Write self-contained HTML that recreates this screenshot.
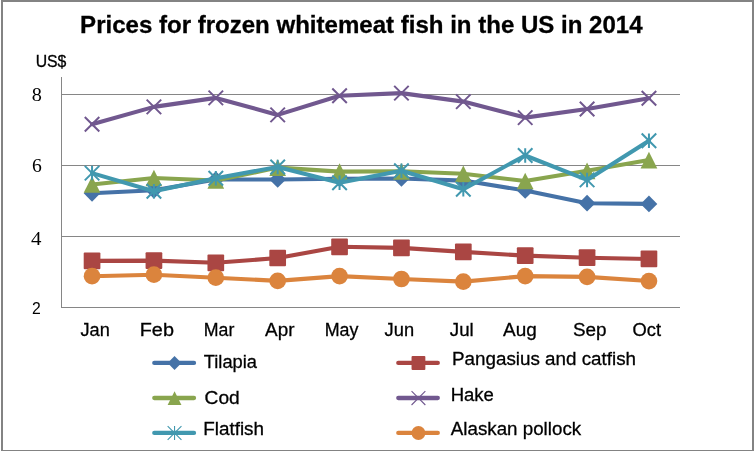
<!DOCTYPE html>
<html lang="en">
<head>
<meta charset="utf-8">
<title>Prices for frozen whitemeat fish in the US in 2014</title>
<style>
html,body{margin:0;padding:0;background:#fff;}
body{width:754px;height:451px;overflow:hidden;}
svg{display:block;}
text{font-family:"Liberation Sans",Arial,sans-serif;fill:#000;stroke:#000;stroke-width:0.3px;}
.n{stroke:none;}
.s{font-family:"Liberation Serif","Times New Roman",serif;}
.b{font-weight:bold;}
</style>
</head>
<body>
<svg width="754" height="451" viewBox="0 0 754 451">
<rect x="0" y="0" width="754" height="451" fill="#fff"/>
<path d="M1 0H754V2H1Z M1 0H3V451H1Z M752 0H754V451H752Z M1 450H754V451H1Z" fill="#838383"/>
<line x1="61" y1="94.5" x2="680" y2="94.5" stroke="#868686" stroke-width="1"/>
<line x1="61" y1="165.5" x2="680" y2="165.5" stroke="#868686" stroke-width="1"/>
<line x1="61" y1="236.5" x2="680" y2="236.5" stroke="#868686" stroke-width="1"/>
<line x1="61" y1="307.5" x2="680" y2="307.5" stroke="#868686" stroke-width="1"/>
<line x1="61.5" y1="77" x2="61.5" y2="308" stroke="#868686" stroke-width="1"/>
<text class="b" x="80.10" y="32.6" font-size="24" textLength="562.45" lengthAdjust="spacingAndGlyphs">Prices for frozen whitemeat fish in the US in 2014</text>
<text x="35.71" y="66.7" font-size="16" textLength="30.69" lengthAdjust="spacingAndGlyphs">US$</text>
<text class="s n" x="31.70" y="100.8" font-size="19" textLength="10.13" lengthAdjust="spacingAndGlyphs">8</text>
<text class="s n" x="32.00" y="172.0" font-size="19" textLength="9.82" lengthAdjust="spacingAndGlyphs">6</text>
<text class="s n" x="31.00" y="244.8" font-size="19" textLength="10.45" lengthAdjust="spacingAndGlyphs">4</text>
<text class="n" x="32.00" y="314.1" font-size="15.6" textLength="8.78" lengthAdjust="spacingAndGlyphs">2</text>
<text x="80.50" y="335.7" font-size="19.1" textLength="29.29" lengthAdjust="spacingAndGlyphs">Jan</text>
<text x="139.76" y="335.7" font-size="19.1" textLength="34.18" lengthAdjust="spacingAndGlyphs">Feb</text>
<text x="203.87" y="335.7" font-size="19.1" textLength="30.53" lengthAdjust="spacingAndGlyphs">Mar</text>
<text x="265.10" y="335.7" font-size="19.1" textLength="29.37" lengthAdjust="spacingAndGlyphs">Apr</text>
<text x="324.67" y="335.7" font-size="19.1" textLength="33.71" lengthAdjust="spacingAndGlyphs">May</text>
<text x="384.60" y="335.7" font-size="19.1" textLength="29.49" lengthAdjust="spacingAndGlyphs">Jun</text>
<text x="449.80" y="335.7" font-size="19.1" textLength="23.92" lengthAdjust="spacingAndGlyphs">Jul</text>
<text x="503.00" y="335.7" font-size="19.1" textLength="33.71" lengthAdjust="spacingAndGlyphs">Aug</text>
<text x="573.00" y="335.7" font-size="19.1" textLength="33.61" lengthAdjust="spacingAndGlyphs">Sep</text>
<text x="632.60" y="335.7" font-size="19.1" textLength="28.53" lengthAdjust="spacingAndGlyphs">Oct</text>
<g><polyline points="92.05,193.30 153.93,190.30 215.81,179.50 277.68,179.50 339.56,178.70 401.44,178.50 463.32,180.60 525.20,190.50 587.07,203.20 648.95,203.90" fill="none" stroke="#4572A7" stroke-width="4.1" stroke-linejoin="round" stroke-linecap="round"/>
<path d="M92.05 184.95L100.40 193.30L92.05 201.65L83.70 193.30Z" fill="#4572A7"/>
<path d="M153.93 181.95L162.28 190.30L153.93 198.65L145.58 190.30Z" fill="#4572A7"/>
<path d="M215.81 171.15L224.16 179.50L215.81 187.85L207.46 179.50Z" fill="#4572A7"/>
<path d="M277.68 171.15L286.03 179.50L277.68 187.85L269.33 179.50Z" fill="#4572A7"/>
<path d="M339.56 170.35L347.91 178.70L339.56 187.05L331.21 178.70Z" fill="#4572A7"/>
<path d="M401.44 170.15L409.79 178.50L401.44 186.85L393.09 178.50Z" fill="#4572A7"/>
<path d="M463.32 172.25L471.67 180.60L463.32 188.95L454.97 180.60Z" fill="#4572A7"/>
<path d="M525.20 182.15L533.55 190.50L525.20 198.85L516.85 190.50Z" fill="#4572A7"/>
<path d="M587.07 194.85L595.42 203.20L587.07 211.55L578.72 203.20Z" fill="#4572A7"/>
<path d="M648.95 195.55L657.30 203.90L648.95 212.25L640.60 203.90Z" fill="#4572A7"/>
</g>
<g><polyline points="92.05,260.85 153.93,260.60 215.81,262.80 277.68,258.00 339.56,246.80 401.44,247.90 463.32,251.90 525.20,255.60 587.07,257.70 648.95,258.95" fill="none" stroke="#AA4643" stroke-width="4.1" stroke-linejoin="round" stroke-linecap="round"/>
<rect x="83.70" y="252.50" width="16.70" height="16.70" rx="1" fill="#AA4643"/>
<rect x="145.58" y="252.25" width="16.70" height="16.70" rx="1" fill="#AA4643"/>
<rect x="207.46" y="254.45" width="16.70" height="16.70" rx="1" fill="#AA4643"/>
<rect x="269.33" y="249.65" width="16.70" height="16.70" rx="1" fill="#AA4643"/>
<rect x="331.21" y="238.45" width="16.70" height="16.70" rx="1" fill="#AA4643"/>
<rect x="393.09" y="239.55" width="16.70" height="16.70" rx="1" fill="#AA4643"/>
<rect x="454.97" y="243.55" width="16.70" height="16.70" rx="1" fill="#AA4643"/>
<rect x="516.85" y="247.25" width="16.70" height="16.70" rx="1" fill="#AA4643"/>
<rect x="578.72" y="249.35" width="16.70" height="16.70" rx="1" fill="#AA4643"/>
<rect x="640.60" y="250.60" width="16.70" height="16.70" rx="1" fill="#AA4643"/>
</g>
<g><polyline points="92.05,184.50 153.93,178.00 215.81,180.50 277.68,167.60 339.56,171.60 401.44,171.30 463.32,173.80 525.20,181.00 587.07,170.80 648.95,160.10" fill="none" stroke="#89A54E" stroke-width="4.1" stroke-linejoin="round" stroke-linecap="round"/>
<path d="M92.05 176.15L100.40 192.85L83.70 192.85Z" fill="#89A54E"/>
<path d="M153.93 169.65L162.28 186.35L145.58 186.35Z" fill="#89A54E"/>
<path d="M215.81 172.15L224.16 188.85L207.46 188.85Z" fill="#89A54E"/>
<path d="M277.68 159.25L286.03 175.95L269.33 175.95Z" fill="#89A54E"/>
<path d="M339.56 163.25L347.91 179.95L331.21 179.95Z" fill="#89A54E"/>
<path d="M401.44 162.95L409.79 179.65L393.09 179.65Z" fill="#89A54E"/>
<path d="M463.32 165.45L471.67 182.15L454.97 182.15Z" fill="#89A54E"/>
<path d="M525.20 172.65L533.55 189.35L516.85 189.35Z" fill="#89A54E"/>
<path d="M587.07 162.45L595.42 179.15L578.72 179.15Z" fill="#89A54E"/>
<path d="M648.95 151.75L657.30 168.45L640.60 168.45Z" fill="#89A54E"/>
</g>
<g><polyline points="92.05,124.20 153.93,106.90 215.81,97.90 277.68,114.90 339.56,95.70 401.44,93.10 463.32,101.60 525.20,117.60 587.07,109.00 648.95,98.30" fill="none" stroke="#71588F" stroke-width="4.1" stroke-linejoin="round" stroke-linecap="round"/>
<path d="M84.79 116.94L99.31 131.46M99.31 116.94L84.79 131.46" stroke="#71588F" stroke-width="2.0" fill="none"/>
<path d="M146.66 99.64L161.19 114.16M161.19 99.64L146.66 114.16" stroke="#71588F" stroke-width="2.0" fill="none"/>
<path d="M208.54 90.64L223.07 105.16M223.07 90.64L208.54 105.16" stroke="#71588F" stroke-width="2.0" fill="none"/>
<path d="M270.42 107.64L284.95 122.16M284.95 107.64L270.42 122.16" stroke="#71588F" stroke-width="2.0" fill="none"/>
<path d="M332.30 88.44L346.83 102.96M346.83 88.44L332.30 102.96" stroke="#71588F" stroke-width="2.0" fill="none"/>
<path d="M394.18 85.84L408.70 100.36M408.70 85.84L394.18 100.36" stroke="#71588F" stroke-width="2.0" fill="none"/>
<path d="M456.05 94.34L470.58 108.86M470.58 94.34L456.05 108.86" stroke="#71588F" stroke-width="2.0" fill="none"/>
<path d="M517.93 110.34L532.46 124.86M532.46 110.34L517.93 124.86" stroke="#71588F" stroke-width="2.0" fill="none"/>
<path d="M579.81 101.74L594.34 116.26M594.34 101.74L579.81 116.26" stroke="#71588F" stroke-width="2.0" fill="none"/>
<path d="M641.69 91.04L656.22 105.56M656.22 91.04L641.69 105.56" stroke="#71588F" stroke-width="2.0" fill="none"/>
</g>
<g><polyline points="92.05,173.10 153.93,191.20 215.81,178.20 277.68,167.00 339.56,182.80 401.44,170.70 463.32,189.20 525.20,155.50 587.07,179.90 648.95,140.80" fill="none" stroke="#4198AF" stroke-width="4.1" stroke-linejoin="round" stroke-linecap="round"/>
<path d="M84.79 165.84L99.31 180.36M99.31 165.84L84.79 180.36M92.05 165.84L92.05 180.36" stroke="#4198AF" stroke-width="2.0" fill="none"/>
<path d="M146.66 183.94L161.19 198.46M161.19 183.94L146.66 198.46M153.93 183.94L153.93 198.46" stroke="#4198AF" stroke-width="2.0" fill="none"/>
<path d="M208.54 170.94L223.07 185.46M223.07 170.94L208.54 185.46M215.81 170.94L215.81 185.46" stroke="#4198AF" stroke-width="2.0" fill="none"/>
<path d="M270.42 159.74L284.95 174.26M284.95 159.74L270.42 174.26M277.68 159.74L277.68 174.26" stroke="#4198AF" stroke-width="2.0" fill="none"/>
<path d="M332.30 175.54L346.83 190.06M346.83 175.54L332.30 190.06M339.56 175.54L339.56 190.06" stroke="#4198AF" stroke-width="2.0" fill="none"/>
<path d="M394.18 163.44L408.70 177.96M408.70 163.44L394.18 177.96M401.44 163.44L401.44 177.96" stroke="#4198AF" stroke-width="2.0" fill="none"/>
<path d="M456.05 181.94L470.58 196.46M470.58 181.94L456.05 196.46M463.32 181.94L463.32 196.46" stroke="#4198AF" stroke-width="2.0" fill="none"/>
<path d="M517.93 148.24L532.46 162.76M532.46 148.24L517.93 162.76M525.20 148.24L525.20 162.76" stroke="#4198AF" stroke-width="2.0" fill="none"/>
<path d="M579.81 172.64L594.34 187.16M594.34 172.64L579.81 187.16M587.07 172.64L587.07 187.16" stroke="#4198AF" stroke-width="2.0" fill="none"/>
<path d="M641.69 133.54L656.22 148.06M656.22 133.54L641.69 148.06M648.95 133.54L648.95 148.06" stroke="#4198AF" stroke-width="2.0" fill="none"/>
</g>
<g><polyline points="92.05,276.20 153.93,274.70 215.81,277.70 277.68,280.90 339.56,276.10 401.44,279.00 463.32,281.60 525.20,276.10 587.07,276.90 648.95,281.05" fill="none" stroke="#DB843D" stroke-width="4.1" stroke-linejoin="round" stroke-linecap="round"/>
<circle cx="92.05" cy="276.20" r="8.35" fill="#DB843D"/>
<circle cx="153.93" cy="274.70" r="8.35" fill="#DB843D"/>
<circle cx="215.81" cy="277.70" r="8.35" fill="#DB843D"/>
<circle cx="277.68" cy="280.90" r="8.35" fill="#DB843D"/>
<circle cx="339.56" cy="276.10" r="8.35" fill="#DB843D"/>
<circle cx="401.44" cy="279.00" r="8.35" fill="#DB843D"/>
<circle cx="463.32" cy="281.60" r="8.35" fill="#DB843D"/>
<circle cx="525.20" cy="276.10" r="8.35" fill="#DB843D"/>
<circle cx="587.07" cy="276.90" r="8.35" fill="#DB843D"/>
<circle cx="648.95" cy="281.05" r="8.35" fill="#DB843D"/>
</g>
<line x1="154.29999999999998" y1="362.9" x2="194.0" y2="362.9" stroke="#4572A7" stroke-width="4.3" stroke-linecap="round"/>
<path d="M174.55 356.10L181.45 363.00L174.55 369.90L167.65 363.00Z" fill="#4572A7"/>
<text x="203.80" y="367.5" font-size="19.1" textLength="53.23" lengthAdjust="spacingAndGlyphs">Tilapia</text>
<line x1="154.29999999999998" y1="398.0" x2="194.0" y2="398.0" stroke="#89A54E" stroke-width="4.3" stroke-linecap="round"/>
<path d="M174.55 391.20L181.45 405.00L167.65 405.00Z" fill="#89A54E"/>
<text x="204.60" y="403.7" font-size="19.1" textLength="35.12" lengthAdjust="spacingAndGlyphs">Cod</text>
<line x1="154.29999999999998" y1="432.9" x2="194.0" y2="432.9" stroke="#4198AF" stroke-width="4.3" stroke-linecap="round"/>
<path d="M167.65 426.10L181.45 439.90M181.45 426.10L167.65 439.90M174.55 426.10L174.55 439.90" stroke="#4198AF" stroke-width="1.1" fill="none"/>
<text x="203.21" y="435.4" font-size="19.1" textLength="60.80" lengthAdjust="spacingAndGlyphs">Flatfish</text>
<line x1="398.3" y1="362.9" x2="437.79999999999995" y2="362.9" stroke="#AA4643" stroke-width="4.3" stroke-linecap="round"/>
<rect x="411.55" y="356.10" width="13.80" height="13.80" rx="1" fill="#AA4643"/>
<text x="452.01" y="364.8" font-size="19.1" textLength="184.10" lengthAdjust="spacingAndGlyphs">Pangasius and catfish</text>
<line x1="398.3" y1="398.0" x2="437.79999999999995" y2="398.0" stroke="#71588F" stroke-width="4.3" stroke-linecap="round"/>
<path d="M411.55 391.20L425.35 405.00M425.35 391.20L411.55 405.00" stroke="#71588F" stroke-width="1.1" fill="none"/>
<text x="450.63" y="401.0" font-size="19.1" textLength="43.27" lengthAdjust="spacingAndGlyphs">Hake</text>
<line x1="398.3" y1="432.9" x2="437.79999999999995" y2="432.9" stroke="#DB843D" stroke-width="4.3" stroke-linecap="round"/>
<circle cx="418.45" cy="433.00" r="6.90" fill="#DB843D"/>
<text x="450.80" y="435.0" font-size="19.1" textLength="130.35" lengthAdjust="spacingAndGlyphs">Alaskan pollock</text>
</svg>
</body>
</html>
